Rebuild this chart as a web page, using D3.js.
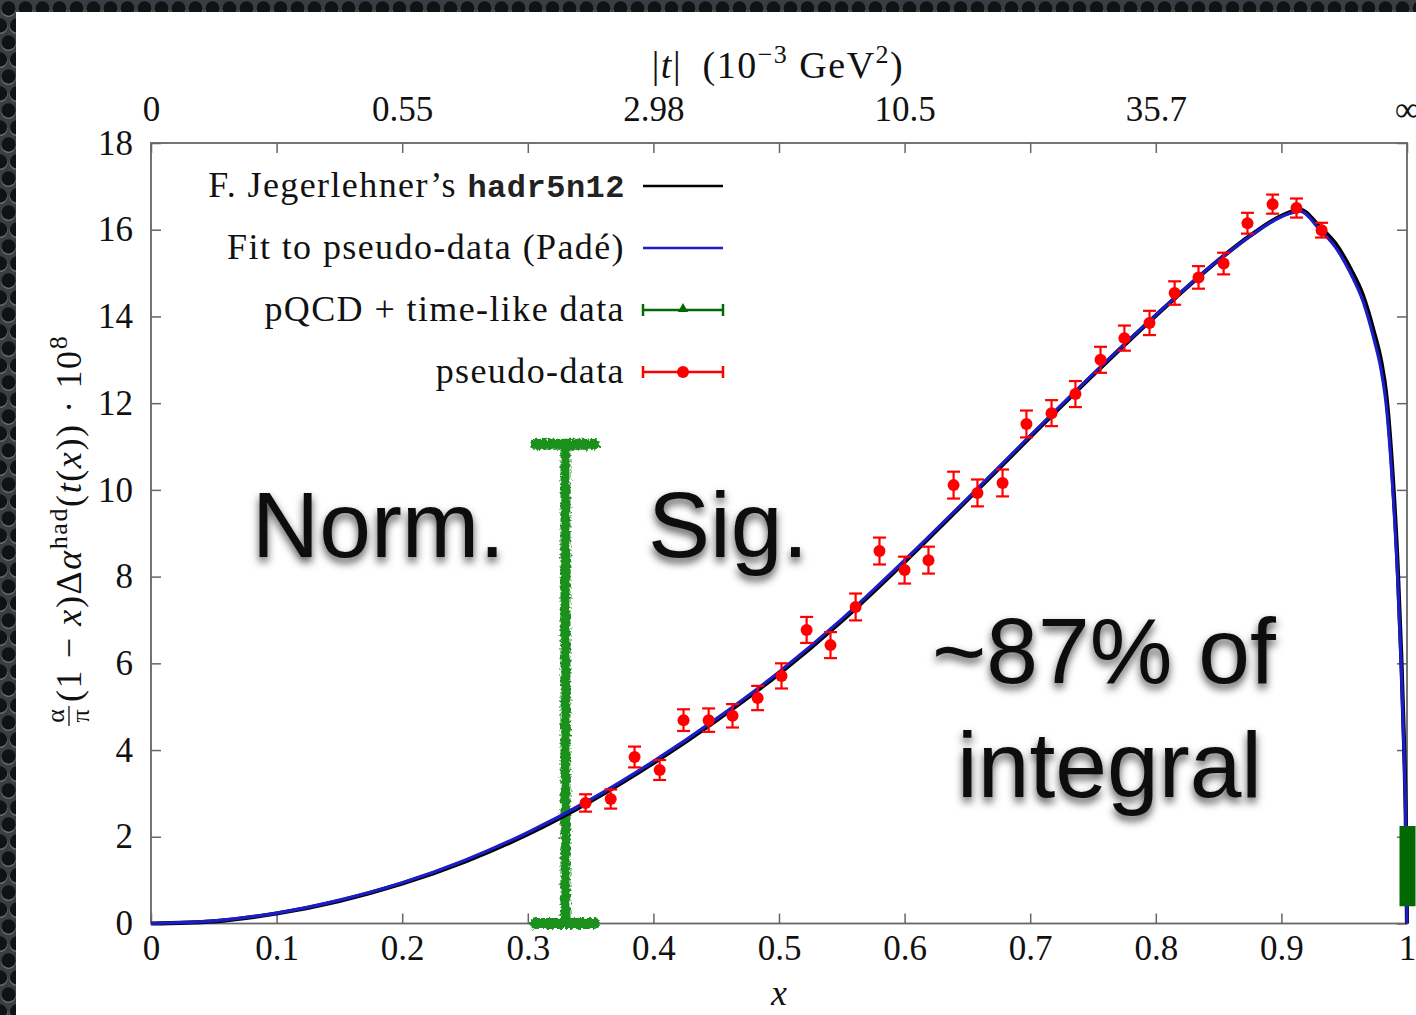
<!DOCTYPE html>
<html>
<head>
<meta charset="utf-8">
<script src="https://cdn.jsdelivr.net/npm/d3@7"></script>
<style>
body { margin: 0; background: #fff; overflow: hidden; }
.tick text { font-family: "Liberation Serif", "Times New Roman", serif; font-size: 35px; fill: #111; }
.tick line { stroke: #666; stroke-width: 1.5; }
</style>
</head>
<body>
<div class="container"></div>
<script>
// ---- data ----
var xTicks = [0, 0.1, 0.2, 0.3, 0.4, 0.5, 0.6, 0.7, 0.8, 0.9, 1];
var xTickLabels = ["0", "0.1", "0.2", "0.3", "0.4", "0.5", "0.6", "0.7", "0.8", "0.9", "1"];
var yTicks = [0, 2, 4, 6, 8, 10, 12, 14, 16, 18];
var topTickPos = [0, 0.2, 0.4, 0.6, 0.8, 1];
var topTickLabels = ["0", "0.55", "2.98", "10.5", "35.7", "\u221e"];

// fit to pseudo-data (Padé)
var fitX = [0, 0.05, 0.1, 0.15, 0.2, 0.25, 0.3, 0.35, 0.4, 0.45, 0.5, 0.55, 0.6, 0.65, 0.7, 0.75, 0.8, 0.85, 0.875, 0.9, 0.915, 0.93, 0.943, 0.955, 0.965, 0.9735, 0.9795, 0.9833, 0.9887, 0.9925, 0.9953, 0.9976, 0.9992, 1];
var fitY = [0, 0.06, 0.24, 0.54, 0.94, 1.46, 2.10, 2.86, 3.74, 4.72, 5.80, 7.02, 8.38, 9.80, 11.25, 12.67, 14.03, 15.30, 15.85, 16.30, 16.43, 16.02, 15.60, 15.00, 14.35, 13.50, 12.75, 12.00, 10.00, 8.00, 6.00, 4.00, 2.00, 0];
// F. Jegerlehner's hadr5n12
var jegX = [0, 0.05, 0.1, 0.15, 0.2, 0.25, 0.3, 0.35, 0.4, 0.45, 0.5, 0.55, 0.6, 0.65, 0.7, 0.75, 0.8, 0.85, 0.875, 0.9, 0.915, 0.93, 0.943, 0.955, 0.965, 0.9735, 0.9795, 0.9833, 0.9887, 0.9925, 0.9953, 0.9976, 0.9992, 1];
var jegY = [0, 0.05, 0.23, 0.52, 0.92, 1.43, 2.06, 2.82, 3.70, 4.68, 5.76, 6.98, 8.34, 9.77, 11.22, 12.65, 14.02, 15.30, 15.86, 16.32, 16.46, 16.08, 15.68, 15.10, 14.48, 13.66, 12.95, 12.24, 10.28, 8.28, 6.25, 4.20, 2.12, 0];

// pseudo-data points
var pseudoX = [0.346, 0.366, 0.385, 0.405, 0.424, 0.444, 0.463, 0.483, 0.502, 0.522, 0.541, 0.561, 0.580, 0.600, 0.619, 0.639, 0.658, 0.678, 0.697, 0.717, 0.736, 0.756, 0.775, 0.795, 0.815, 0.834, 0.854, 0.873, 0.893, 0.912, 0.932];
var pseudoY = [2.78, 2.87, 3.84, 3.54, 4.69, 4.69, 4.79, 5.20, 5.71, 6.77, 6.42, 7.30, 8.59, 8.15, 8.38, 10.11, 9.93, 10.16, 11.52, 11.77, 12.21, 13.00, 13.50, 13.85, 14.54, 14.90, 15.22, 16.15, 16.59, 16.50, 15.99];
var pseudoErr = [0.20, 0.22, 0.24, 0.23, 0.25, 0.27, 0.27, 0.28, 0.29, 0.30, 0.30, 0.31, 0.31, 0.31, 0.31, 0.31, 0.31, 0.31, 0.31, 0.30, 0.30, 0.30, 0.29, 0.28, 0.27, 0.26, 0.25, 0.24, 0.22, 0.22, 0.17];

// pQCD + time-like data
var pqcdX = [1];
var pqcdLo = [0.40];
var pqcdHi = [2.25];

// hand drawn normalisation bar
var normX = [0.33];
var normLo = [0];
var normHi = [11.05];

var legendLabels = ["F. Jegerlehner\u2019s ", "Fit to pseudo-data (Pad\u00e9)", "pQCD + time-like data", "pseudo-data"];
var notes = ["Norm.", "Sig.", "~87% of", "integral"];

// ---- layout ----
const WIDTH = 1416;
const HEIGHT = 1015;
const LEFT = 151, RIGHT = 1407, TOP = 143, BOTTOM = 923.5;
const SERIF = '"Liberation Serif", "Times New Roman", serif';

var svg, xScale, yScale;

var translate = function(x, y){
	return "translate(" + x + "," + y + ")";
};

var addDefs = function(){
	var defs = svg.append('defs');

	var pat = defs.append('pattern')
		.attr('id', 'metal')
		.attr('patternUnits', 'userSpaceOnUse')
		.attr('width', 17).attr('height', 34);
	pat.append('rect').attr('width', 17).attr('height', 34).attr('fill', '#3a3e42');
	[[8.5, 8.5], [0, 25.5], [17, 25.5]].forEach(function(c){
		pat.append('circle').attr('cx', c[0]).attr('cy', c[1] + 1).attr('r', 7.6).attr('fill', '#6a6f74');
		pat.append('circle').attr('cx', c[0]).attr('cy', c[1]).attr('r', 7.2).attr('fill', '#111214');
	});

	var shadow = defs.append('filter').attr('id', 'shadow')
		.attr('x', '-20%').attr('y', '-30%').attr('width', '140%').attr('height', '170%');
	shadow.append('feDropShadow')
		.attr('dx', 0).attr('dy', 5).attr('stdDeviation', 4)
		.attr('flood-color', '#000').attr('flood-opacity', 0.7);

	var rough = defs.append('filter').attr('id', 'rough')
		.attr('x', '-20%').attr('y', '-5%').attr('width', '140%').attr('height', '110%');
	rough.append('feTurbulence')
		.attr('type', 'fractalNoise').attr('baseFrequency', 0.35)
		.attr('numOctaves', 2).attr('seed', 3).attr('result', 'noise');
	rough.append('feDisplacementMap')
		.attr('in', 'SourceGraphic').attr('in2', 'noise')
		.attr('scale', 6).attr('xChannelSelector', 'R').attr('yChannelSelector', 'G');
};

var loadChart = function(){
	svg = d3.select('.container').append('svg')
		.attr('width', WIDTH)
		.attr('height', HEIGHT);

	addDefs();

	// perforated metal frame and white slide
	svg.append('rect').attr('width', WIDTH).attr('height', HEIGHT).attr('fill', 'url(#metal)');
	svg.append('rect').attr('x', 16).attr('y', 12)
		.attr('width', WIDTH - 16).attr('height', HEIGHT - 12).attr('fill', '#fff');

	xScale = d3.scaleLinear().domain([0, 1]).range([LEFT, RIGHT]);
	yScale = d3.scaleLinear().domain([0, 18]).range([BOTTOM, TOP]);

	drawAxes();
	drawCurves();
	drawLegend();
	drawNotes();
};

var drawAxes = function(){
	svg.append('g')
		.attr('transform', translate(0, BOTTOM))
		.call(d3.axisBottom(xScale).tickValues(xTicks)
			.tickFormat(function(d, i){ return xTickLabels[i]; })
			.tickSizeInner(-10).tickSizeOuter(0).tickPadding(12))
		.call(function(g){ g.select('.domain').remove(); });

	svg.append('g')
		.attr('transform', translate(0, TOP))
		.call(d3.axisTop(xScale).tickValues(xTicks)
			.tickFormat(function(d){
				var k = topTickPos.indexOf(d);
				return k < 0 ? "" : topTickLabels[k];
			})
			.tickSizeInner(-10).tickSizeOuter(0).tickPadding(22))
		.call(function(g){ g.select('.domain').remove(); });

	svg.append('g')
		.attr('transform', translate(LEFT, 0))
		.call(d3.axisLeft(yScale).tickValues(yTicks)
			.tickSizeInner(-10).tickSizeOuter(0).tickPadding(18))
		.call(function(g){ g.select('.domain').remove(); });

	svg.append('g')
		.attr('transform', translate(RIGHT, 0))
		.call(d3.axisRight(yScale).tickValues(yTicks)
			.tickFormat("").tickSizeInner(-10).tickSizeOuter(0))
		.call(function(g){ g.select('.domain').remove(); });

	svg.selectAll('.tick text').attr('font-family', null).attr('font-size', null);

	svg.append('rect')
		.attr('x', LEFT).attr('y', TOP)
		.attr('width', RIGHT - LEFT).attr('height', BOTTOM - TOP)
		.attr('fill', 'none').attr('stroke', '#666').attr('stroke-width', 1.8);

	// x label
	svg.append('text')
		.attr('x', (LEFT + RIGHT) / 2).attr('y', 1005)
		.attr('text-anchor', 'middle')
		.attr('font-family', SERIF).attr('font-style', 'italic').attr('font-size', 36)
		.attr('fill', '#111').text('x');

	// top label  |t| (10^-3 GeV^2)
	var top = svg.append('text')
		.attr('x', 778).attr('y', 78)
		.attr('text-anchor', 'middle')
		.attr('font-family', SERIF).attr('font-size', 38).attr('letter-spacing', 1.5).attr('fill', '#111');
	top.append('tspan').text('|');
	top.append('tspan').attr('font-style', 'italic').text('t');
	top.append('tspan').text('|\u2002(10');
	top.append('tspan').attr('dy', -15).attr('font-size', 26).text('\u22123');
	top.append('tspan').attr('dy', 15).text(' GeV');
	top.append('tspan').attr('dy', -15).attr('font-size', 26).text('2');
	top.append('tspan').attr('dy', 15).text(')');

	// y label, rotated
	var yl = svg.append('g').attr('transform', translate(81, 530) + ' rotate(-90)');
	var fx = -186;
	yl.append('text').attr('x', fx).attr('y', -17).attr('text-anchor', 'middle')
		.attr('font-family', SERIF).attr('font-size', 26).attr('fill', '#111').text('\u03b1');
	yl.append('line').attr('x1', fx - 10).attr('x2', fx + 10).attr('y1', -12).attr('y2', -12)
		.attr('stroke', '#111').attr('stroke-width', 1.3);
	yl.append('text').attr('x', fx).attr('y', 8).attr('text-anchor', 'middle')
		.attr('font-family', SERIF).attr('font-size', 26).attr('fill', '#111').text('\u03c0');
	var ylt = yl.append('text').attr('x', fx + 14).attr('y', 0)
		.attr('font-family', SERIF).attr('font-size', 36).attr('letter-spacing', 1.6).attr('fill', '#111');
	ylt.append('tspan').text('(1 \u2212 ');
	ylt.append('tspan').attr('font-style', 'italic').text('x');
	ylt.append('tspan').text(')\u0394');
	ylt.append('tspan').attr('font-style', 'italic').text('\u03b1');
	ylt.append('tspan').attr('dy', -14).attr('font-size', 26).text('had');
	ylt.append('tspan').attr('dy', 14).text('(');
	ylt.append('tspan').attr('font-style', 'italic').text('t');
	ylt.append('tspan').text('(');
	ylt.append('tspan').attr('font-style', 'italic').text('x');
	ylt.append('tspan').text(')) \u00b7 10');
	ylt.append('tspan').attr('dy', -14).attr('font-size', 26).text('8');
};

var errorBar = function(g, px, lo, hi, color, cap, width){
	g.append('line')
		.attr('x1', px).attr('x2', px).attr('y1', lo).attr('y2', hi)
		.attr('stroke', color).attr('stroke-width', width);
	g.append('line').attr('x1', px - cap).attr('x2', px + cap).attr('y1', lo).attr('y2', lo)
		.attr('stroke', color).attr('stroke-width', width);
	g.append('line').attr('x1', px - cap).attr('x2', px + cap).attr('y1', hi).attr('y2', hi)
		.attr('stroke', color).attr('stroke-width', width);
};

var drawCurves = function(){
	// hand drawn green bar
	var norm = svg.append('g').attr('filter', 'url(#rough)');
	normX.forEach(function(d, i){
		var px = xScale(d);
		norm.append('line')
			.attr('x1', px).attr('x2', px)
			.attr('y1', yScale(normLo[i]) - 4).attr('y2', yScale(normHi[i]) + 4)
			.attr('stroke', '#1f901f').attr('stroke-width', 10);
		[normLo[i], normHi[i]].forEach(function(v){
			norm.append('line')
				.attr('x1', px - 30).attr('x2', px + 29)
				.attr('y1', yScale(v)).attr('y2', yScale(v))
				.attr('stroke', '#1f901f').attr('stroke-width', 11)
				.attr('stroke-linecap', 'round');
		});
	});

	var line = d3.line()
		.x(function(d){ return xScale(d[0]); })
		.y(function(d){ return yScale(d[1]); })
		.curve(d3.curveMonotoneX);

	svg.append('path')
		.attr('d', line(d3.zip(jegX, jegY)))
		.attr('fill', 'none').attr('stroke', '#000').attr('stroke-width', 4.2);

	svg.append('path')
		.attr('d', line(d3.zip(fitX, fitY)))
		.attr('fill', 'none').attr('stroke', '#1c1cc8').attr('stroke-width', 3.2);

	// pQCD + time-like data at x = 1
	var pq = svg.append('g');
	pqcdX.forEach(function(d, i){
		pq.append('line')
			.attr('x1', xScale(d) + 0.5).attr('x2', xScale(d) + 0.5)
			.attr('y1', yScale(pqcdLo[i])).attr('y2', yScale(pqcdHi[i]))
			.attr('stroke', '#036803').attr('stroke-width', 16);
	});

	// pseudo-data
	var pts = svg.append('g');
	pseudoX.forEach(function(d, i){
		var px = xScale(d);
		errorBar(pts, px, yScale(pseudoY[i] - pseudoErr[i]), yScale(pseudoY[i] + pseudoErr[i]), '#ff0000', 6.5, 2.2);
		pts.append('circle').attr('cx', px).attr('cy', yScale(pseudoY[i])).attr('r', 6).attr('fill', '#ff0000');
	});
};

var drawLegend = function(){
	var lg = svg.append('g');
	var textX = 625, x1 = 643, x2 = 723;
	var rows = [186, 248, 310, 372];

	var t0 = lg.append('text').attr('x', textX).attr('y', rows[0] + 11).attr('text-anchor', 'end')
		.attr('font-family', SERIF).attr('font-size', 36).attr('letter-spacing', 1.4).attr('fill', '#111');
	t0.append('tspan').text(legendLabels[0]);
	t0.append('tspan').attr('font-family', '"Liberation Mono", "DejaVu Sans Mono", monospace')
		.attr('font-weight', 'bold').attr('font-size', 32).attr('letter-spacing', 0.5).attr('fill', '#222')
		.text('hadr5n12');

	for (var i = 1; i < 4; i++) {
		lg.append('text').attr('x', textX).attr('y', rows[i] + 11).attr('text-anchor', 'end')
			.attr('font-family', SERIF).attr('font-size', 36).attr('letter-spacing', 1.4).attr('fill', '#111')
			.text(legendLabels[i]);
	}

	lg.append('line').attr('x1', x1).attr('x2', x2).attr('y1', rows[0]).attr('y2', rows[0])
		.attr('stroke', '#000').attr('stroke-width', 2.5);
	lg.append('line').attr('x1', x1).attr('x2', x2).attr('y1', rows[1]).attr('y2', rows[1])
		.attr('stroke', '#1c1cc8').attr('stroke-width', 2.5);

	// green: horizontal error bar with triangle
	var mid = (x1 + x2) / 2;
	lg.append('line').attr('x1', x1).attr('x2', x2).attr('y1', rows[2]).attr('y2', rows[2])
		.attr('stroke', '#036803').attr('stroke-width', 2.5);
	[x1, x2].forEach(function(px){
		lg.append('line').attr('x1', px).attr('x2', px).attr('y1', rows[2] - 6).attr('y2', rows[2] + 6)
			.attr('stroke', '#036803').attr('stroke-width', 2.5);
	});
	lg.append('path').attr('d', d3.symbol(d3.symbolTriangle, 45)())
		.attr('transform', translate(mid, rows[2] - 1)).attr('fill', '#036803');

	// red: horizontal error bar with dot
	lg.append('line').attr('x1', x1).attr('x2', x2).attr('y1', rows[3]).attr('y2', rows[3])
		.attr('stroke', '#ff0000').attr('stroke-width', 2.5);
	[x1, x2].forEach(function(px){
		lg.append('line').attr('x1', px).attr('x2', px).attr('y1', rows[3] - 6).attr('y2', rows[3] + 6)
			.attr('stroke', '#ff0000').attr('stroke-width', 2.5);
	});
	lg.append('circle').attr('cx', mid).attr('cy', rows[3]).attr('r', 6).attr('fill', '#ff0000');
};

var drawNotes = function(){
	var pos = [[252, 557], [648, 557], [932, 683], [957, 797]];
	svg.append('g').selectAll('text').data(notes)
		.enter().append('text')
		.attr('x', function(d, i){ return pos[i][0]; })
		.attr('y', function(d, i){ return pos[i][1]; })
		.attr('font-family', '"Liberation Sans", Arial, sans-serif')
		.attr('font-size', 93)
		.attr('fill', '#111')
		.attr('filter', 'url(#shadow)')
		.text(function(d){ return d; });
};

window.onload = loadChart;
</script>
</body>
</html>
